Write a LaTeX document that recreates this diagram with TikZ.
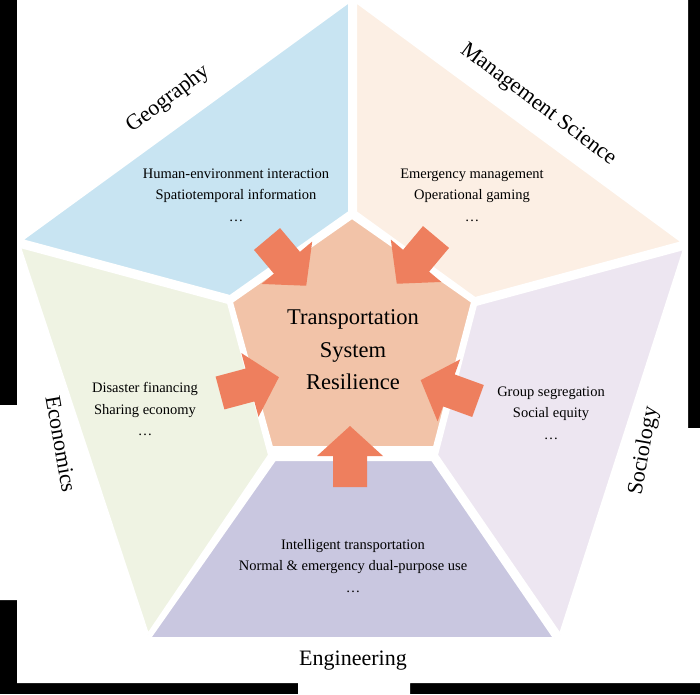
\documentclass[tikz,border=0pt]{standalone}
\usepackage{fontspec}
\setmainfont{Liberation Serif}
\begin{document}
\begin{tikzpicture}[x=1pt,y=-1pt,
  region/.style={draw=white,line width=2pt,line join=round},
  body/.style={align=center,font=\fontsize{14.5}{21.5}\selectfont},
  lab/.style={font=\fontsize{22}{24}\selectfont},
  arr/.pic={\fill[arrowc] (0,-17)--(31,-17)--(31,-33)--(61,0)--(31,33)--(31,17)--(0,17)--cycle;}]
\definecolor{arrowc}{HTML}{EE7F5E}
\definecolor{cen}{HTML}{F2C3A8}
\definecolor{geo}{HTML}{C8E4F2}
\definecolor{man}{HTML}{FCEFE4}
\definecolor{eco}{HTML}{EFF3E3}
\definecolor{soc}{HTML}{EDE6F1}
\definecolor{eng}{HTML}{C9C7E0}
\useasboundingbox (0,0) rectangle (700,694);
\fill[black] (0,0) rectangle (700,694);
\fill[white] (17,0)--(688,0)--(688,428)--(700,428)--(700,683)--(410,683)--(410,694)--(298,694)--(298,683)--(17,683)--(17,600)--(0,600)--(0,405)--(17,405)--cycle;
% regions
\fill[region,fill=geo] (349,2)--(22,240)--(230,296)--(349,212)--cycle;
\fill[region,fill=man] (356,2)--(682,242)--(475,298)--(356,212)--cycle;
\fill[region,fill=eco] (20,247)--(228,303)--(269,455)--(148,634)--cycle;
\fill[region,fill=soc] (684,249)--(476,305)--(437,455)--(560,634)--cycle;
\fill[region,fill=eng] (275,460)--(432,460)--(554,638)--(150,638)--cycle;
\fill[region,fill=cen] (352,218)--(472,302)--(434,447)--(272,447)--(232,302)--cycle;
% arrows
\pic[rotate=-50] (a1) at (267,239) {arr};
\pic[rotate=-130] (a2) at (436,237) {arr};
\pic[rotate=15] (a3) at (220,393) {arr};
\pic[rotate=160] (a4) at (478,401) {arr};
\pic[rotate=90] (a5) at (350,487) {arr};
% center text
\node[align=center,font=\fontsize{22.5}{32.5}\selectfont] (c) at (353,350) {Transportation\\System\\Resilience};
% bodies
\node[body] (g) at (236,195) {Human-environment interaction\\Spatiotemporal information\\\dots};
\node[body] (m) at (472,195) {Emergency management\\Operational gaming\\\dots};
\node[body] (e) at (145,409) {Disaster financing\\Sharing economy\\\dots};
\node[body] (s) at (551,413) {Group segregation\\Social equity\\\dots};
\node[body] (n) at (353,566) {Intelligent transportation\\Normal \& emergency dual-purpose use\\\dots};
% labels
\node[lab,rotate=37] (lg) at (168,99) {Geography};
\node[lab,rotate=-37] (lm) at (538,105) {Management Science};
\node[lab,rotate=-80] (le) at (61,444) {Economics};
\node[lab,rotate=80] (ls) at (644,451) {Sociology};
\node[lab] (ln) at (353,661) {Engineering};
\end{tikzpicture}
\end{document}
